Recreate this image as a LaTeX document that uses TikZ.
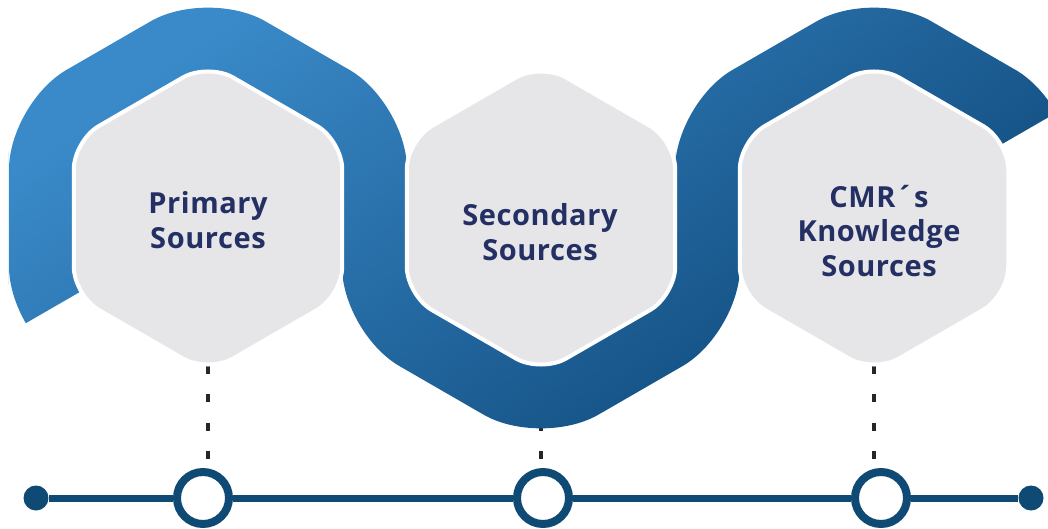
\documentclass[tikz,border=0pt]{standalone}
\usepackage{fontspec}
\setmainfont{Open Sans}[LetterSpace=2]
\usepackage{tikz}
\usetikzlibrary{shapes.geometric}

\definecolor{bandlight}{HTML}{3A8AC9}
\definecolor{bandmid}{HTML}{1A5F9C}
\definecolor{banddark}{HTML}{0A4272}
\definecolor{hexgray}{HTML}{E6E6E8}
\definecolor{textnavy}{HTML}{243063}
\definecolor{linenavy}{HTML}{0F4A74}

\pgfdeclarelayer{background}
\pgfsetlayers{background,main}

\tikzset{
  hexbox/.style={regular polygon, regular polygon sides=6, shape border rotate=30, minimum size=310pt,
    inner sep=0pt, fill=hexgray, draw=white, line width=4pt, rounded corners=29pt},
  hextext/.style={align=center, text=textnavy, font=\fontsize{29}{34.5}\selectfont\bfseries},
  ring/.style={circle, minimum size=52pt, inner sep=0pt, fill=white, draw=linenavy, line width=8pt},
  enddot/.style={circle, minimum size=25pt, inner sep=0pt, fill=linenavy},
  timeline/.style={draw=linenavy, line width=7pt},
  dotline/.style={draw=black!85, line width=4pt, dash pattern=on 8pt off 20.3pt, dash phase=21.8pt},
  bandfill/.style={left color=bandlight, middle color=bandmid, right color=banddark, shading angle=35}
}
\newcommand{\bandhex}[1]{\clip[shift={(#1,-218)}, rounded corners=66.4pt] (180:199) -- (150:229.8) -- (90:229.8)
  -- (30:229.8) -- (-30:229.8) -- (-90:229.8) -- (-150:229.8) -- cycle;}

\begin{document}
\begin{tikzpicture}[x=1pt, y=1pt]
	\useasboundingbox (0,0) rectangle (1048,-529);
	% timeline
	\node[enddot] (d0) at (36,-498) {};
	\node[ring] (c1) at (203,-498) {};
	\node[ring] (c2) at (543,-498) {};
	\node[ring] (c3) at (881,-498) {};
	\node[enddot] (d4) at (1031,-498) {};
	\draw[timeline] (d0) -- (c1) (c1) -- (c2) (c2) -- (c3) (c3) -- (d4);
	% hexagons
	\node[hexbox] (h1) at (208,-218) {};
	\node[hexbox] (h2) at (541,-218) {};
	\node[hexbox] (h3) at (874,-218) {};
	\node[hextext] (t1) at (208,-220) {Primary\\Sources};
	\node[hextext] (t2) at (540,-232) {Secondary\\Sources};
	\node[hextext] (t3) at (879,-231) {CMR´s\\Knowledge\\Sources};
	\begin{pgfonlayer}{background}
		\foreach \i in {1,2,3} \draw[dotline] (h\i.center) -- (h\i.center |- c\i.north);
		% band, one piece per hexagon
		\begin{scope}
			\clip (-17.2,-348) -- (208,-218) -- (208,-268) -- (460,-268) -- (460,10) -- (-17.2,10) -- cycle;
			\bandhex{208}
			\shade[bandfill] (0,0) rectangle (1048,-529);
		\end{scope}
		\begin{scope}
			\clip (300,-168) rectangle (800,-540);
			\bandhex{541}
			\shade[bandfill] (0,0) rectangle (1048,-529);
		\end{scope}
		\begin{scope}
			\clip (1107.8,-83) -- (874,-218) -- (874,-268) -- (640,-268) -- (640,10) -- (1107.8,10) -- cycle;
			\bandhex{874}
			\shade[bandfill] (0,0) rectangle (1048,-529);
		\end{scope}
	\end{pgfonlayer}
\end{tikzpicture}
\end{document}
